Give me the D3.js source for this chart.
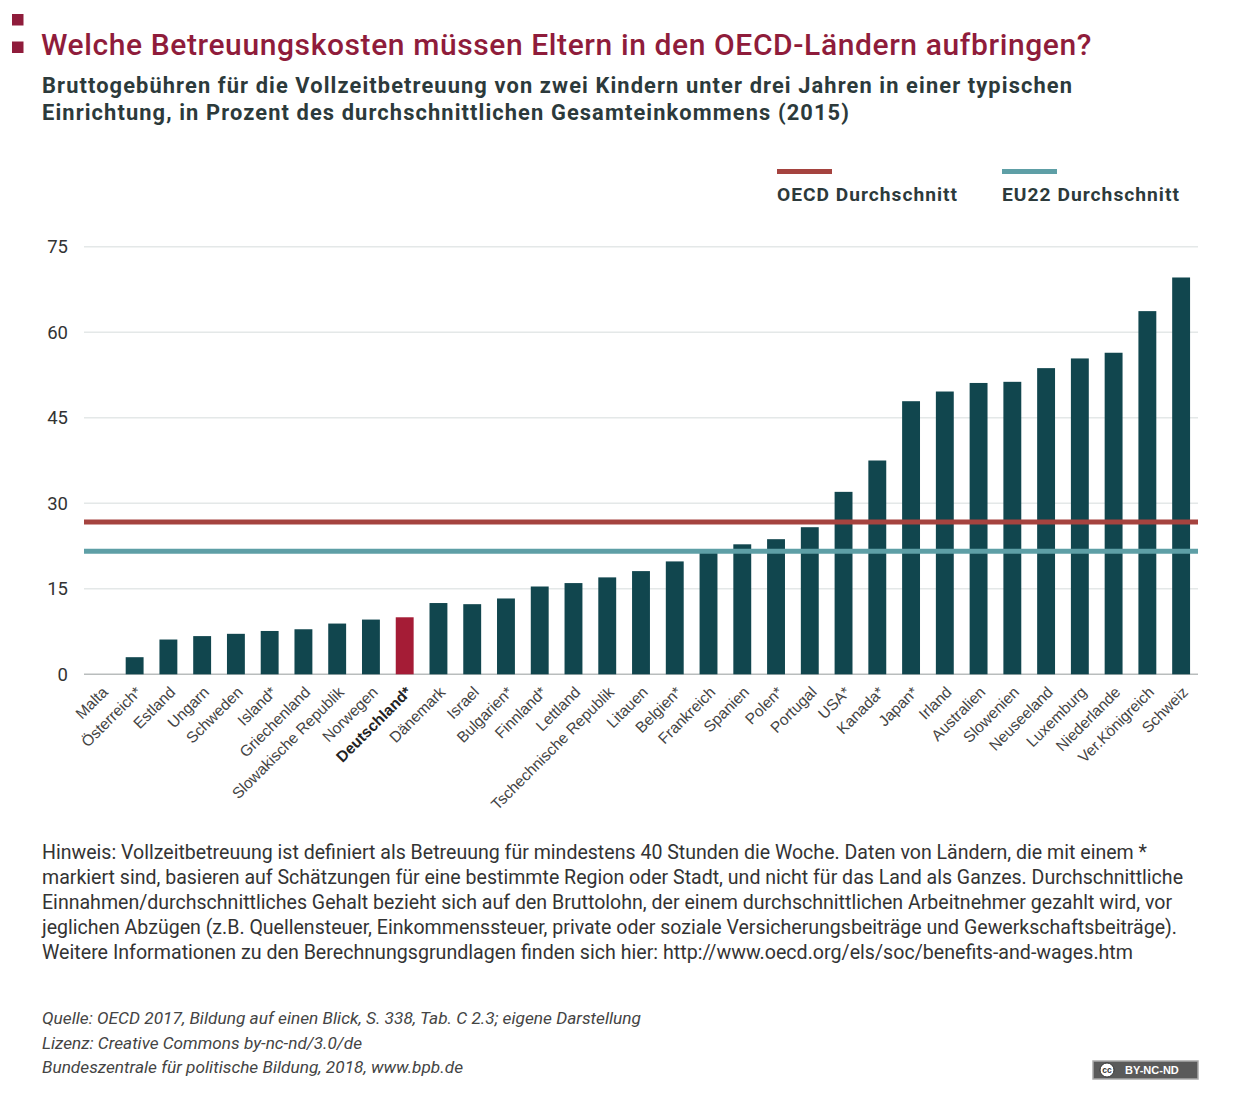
<!DOCTYPE html>
<html><head><meta charset="utf-8">
<script src="https://cdn.jsdelivr.net/npm/d3@7"></script>
<style>body{margin:0;background:#fff} svg{display:block}</style>
</head><body><svg id="c" width="1240" height="1094"></svg>
<script>
// ---------- data ----------
const countries = ["Malta","Österreich*","Estland","Ungarn","Schweden","Island*","Griechenland","Slowakische Republik","Norwegen","Deutschland*","Dänemark","Israel","Bulgarien*","Finnland*","Lettland","Tschechnische Republik","Litauen","Belgien*","Frankreich","Spanien","Polen*","Portugal","USA*","Kanada*","Japan*","Irland","Australien","Slowenien","Neuseeland","Luxemburg","Niederlande","Ver.Königreich","Schweiz"];
const values = [0,3.0,6.1,6.7,7.1,7.6,7.9,8.9,9.6,10.0,12.5,12.3,13.3,15.4,16.0,17.0,18.1,19.8,21.9,22.8,23.7,25.8,32.0,37.5,47.9,49.6,51.1,51.3,53.7,55.4,56.4,63.7,69.6];
const highlight = "Deutschland*";
const yTicks = [0,15,30,45,60,75];
const refNames = ["OECD Durchschnitt","EU22 Durchschnitt"];
const refValues = [26.7,21.6];
const titleText = "Welche Betreuungskosten müssen Eltern in den OECD-Ländern aufbringen?";
const subtitleLines = ["Bruttogebühren für die Vollzeitbetreuung von zwei Kindern unter drei Jahren in einer typischen","Einrichtung, in Prozent des durchschnittlichen Gesamteinkommens (2015)"];
const noteLines = ["Hinweis: Vollzeitbetreuung ist definiert als Betreuung für mindestens 40 Stunden die Woche. Daten von Ländern, die mit einem *","markiert sind, basieren auf Schätzungen für eine bestimmte Region oder Stadt, und nicht für das Land als Ganzes. Durchschnittliche","Einnahmen/durchschnittliches Gehalt bezieht sich auf den Bruttolohn, der einem durchschnittlichen Arbeitnehmer gezahlt wird, vor","jeglichen Abzügen (z.B. Quellensteuer, Einkommenssteuer, private oder soziale Versicherungsbeiträge und Gewerkschaftsbeiträge).","Weitere Informationen zu den Berechnungsgrundlagen finden sich hier:  http://www.oecd.org/els/soc/benefits-and-wages.htm"];
const sourceLines = ["Quelle: OECD 2017, Bildung auf einen Blick, S. 338, Tab. C 2.3; eigene Darstellung","Lizenz: Creative Commons by-nc-nd/3.0/de","Bundeszentrale für politische Bildung, 2018, www.bpb.de"];

// ---------- style ----------
const C = {title:"#8f1c3b", sub:"#2c3a3b", bar:"#11464e", hi:"#a51c36", ref:["#a5433f","#5e9fa6"], grid:"#e4e8e8", axis:"#b9bdbd", text:"#333", label:"#444"};
const svg = d3.select("#c");
const plotL = 84, plotR = 1198, plotT = 246.7, plotB = 674.3;

const x = d3.scaleBand().domain(countries).range([plotL,plotR]).paddingInner(0.47).paddingOuter(0.235);
const y = d3.scaleLinear().domain([0,75]).range([plotB,plotT]);

// title squares
svg.append("rect").attr("x",12).attr("y",14).attr("width",11.5).attr("height",11.5).attr("fill",C.title);
svg.append("rect").attr("x",12).attr("y",41.5).attr("width",11.5).attr("height",11.5).attr("fill",C.title);

// size a text so its natural width (plus letter spacing) fills target width
function fitText(sel, w, spacing){
  spacing = spacing || 0;
  const n = sel.text().length;
  const s0 = +sel.attr("font-size");
  const m = sel.node().getComputedTextLength();
  const s = s0 * (w - spacing*n) / m;
  sel.attr("font-size", s).attr("letter-spacing", spacing);
  sel.attr("textLength", w).attr("lengthAdjust","spacing");
  return sel;
}

fitText(svg.append("text").attr("x",41).attr("y",55).attr("font-family","Roboto").attr("font-weight",500)
  .attr("font-size",28).attr("fill",C.title).text(titleText), 1051, 0.6);
subtitleLines.forEach((t,i)=>{
  fitText(svg.append("text").attr("x",42).attr("y",93+i*27).attr("font-family","Roboto").attr("font-weight",700)
    .attr("font-size",20).attr("fill",C.sub).text(t), i===0?1031:808, 1.1);
});

// legend
const legX = [777,1002], legW=[181,178];
refNames.forEach((n,i)=>{
  svg.append("rect").attr("x",legX[i]).attr("y",169).attr("width",55).attr("height",5).attr("fill",C.ref[i]);
  fitText(svg.append("text").attr("x",legX[i]).attr("y",201).attr("font-family","Roboto").attr("font-weight",700)
    .attr("font-size",18).attr("fill",C.sub).text(n), legW[i], 1.0);
});

// grid
svg.append("g").selectAll("line").data(yTicks).join("line")
  .attr("x1",plotL).attr("x2",plotR).attr("y1",d=>y(d)).attr("y2",d=>y(d))
  .attr("stroke",d=>d===0?C.axis:C.grid).attr("stroke-width",1.5);

// y labels
svg.append("g").selectAll("text").data(yTicks).join("text")
  .attr("x",68).attr("y",d=>y(d)).attr("dy","0.35em").attr("text-anchor","end")
  .attr("font-family","Roboto").attr("font-size",18.5).attr("fill",C.text).text(d=>d);

// bars
svg.append("g").selectAll("rect").data(countries).join("rect")
  .attr("x",d=>x(d)).attr("width",x.bandwidth())
  .attr("y",(d,i)=>y(values[i])).attr("height",(d,i)=>y(0)-y(values[i]))
  .attr("fill",d=>d===highlight?C.hi:C.bar);

// reference lines
svg.append("g").selectAll("line").data(refValues).join("line")
  .attr("x1",plotL).attr("x2",plotR).attr("y1",d=>y(d)).attr("y2",d=>y(d))
  .attr("stroke",(d,i)=>C.ref[i]).attr("stroke-width",5);

// x labels
svg.append("g").selectAll("text").data(countries).join("text")
  .attr("transform",d=>`translate(${x(d)+x.bandwidth()/2+4},${plotB+15}) rotate(-45)`)
  .attr("text-anchor","end").attr("dy","0.35em")
  .attr("font-family","Liberation Sans, Arial, sans-serif").attr("font-size",15.5)
  .attr("font-weight",d=>d===highlight?700:400)
  .attr("fill",d=>d===highlight?"#222":C.label).text(d=>d);

// note
const noteW = [1105,1141,1130,1135,1091];
noteLines.forEach((t,i)=>{
  fitText(svg.append("text").attr("x",42).attr("y",859+i*25).attr("font-family","Roboto").attr("font-size",18)
    .attr("fill",C.text).text(t), noteW[i], 0);
});
// source
const srcW = [599,320,421];
sourceLines.forEach((t,i)=>{
  fitText(svg.append("text").attr("x",42).attr("y",1024+i*24.5).attr("font-family","Roboto").attr("font-style","italic")
    .attr("font-size",16).attr("fill","#444").text(t), srcW[i], 0);
});

// CC badge
const b = svg.append("g").attr("transform","translate(1093,1061)");
b.append("rect").attr("width",105).attr("height",18).attr("fill","#5a5a5a").attr("stroke","#aaa").attr("stroke-width",1.5);
b.append("circle").attr("cx",14).attr("cy",9).attr("r",7).attr("fill","#fff").attr("stroke","#333").attr("stroke-width",1);
b.append("text").attr("x",14).attr("y",9).attr("dy","0.35em").attr("text-anchor","middle").attr("font-family","Liberation Sans, Arial").attr("font-weight",700).attr("font-size",8.5).attr("fill","#333").text("cc");
b.append("text").attr("x",32).attr("y",9).attr("dy","0.36em").attr("font-family","Liberation Sans, Arial").attr("font-weight",700).attr("font-size",11).attr("fill","#fff").text("BY-NC-ND");
</script></body></html>
